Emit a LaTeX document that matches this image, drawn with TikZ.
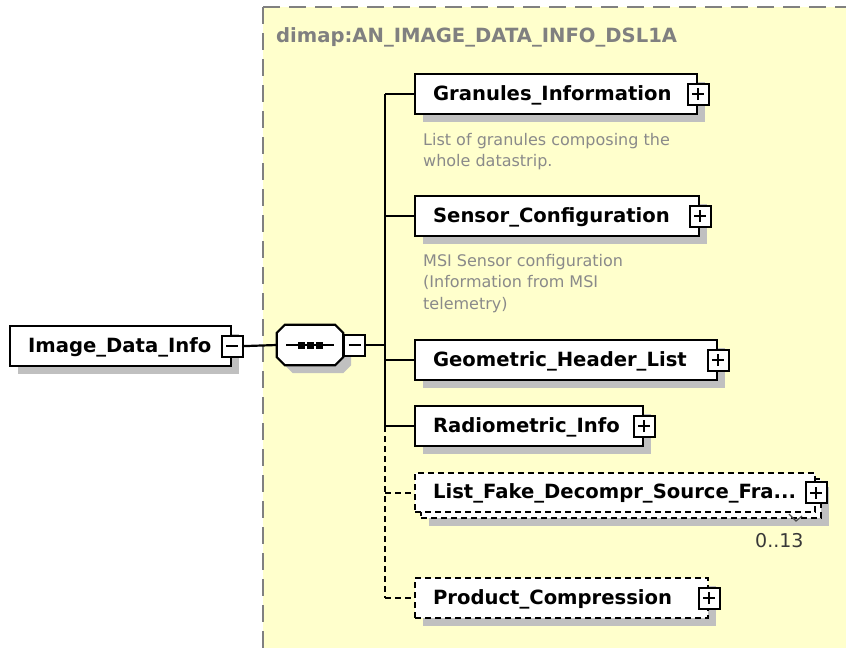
\documentclass[tikz,border=0pt]{standalone}
\usepackage{fontspec}
\setmainfont{DejaVu Sans}
\usetikzlibrary{calc,shadows}
\definecolor{bgyellow}{HTML}{FFFFCC}
\definecolor{shadowgray}{HTML}{C0C0C0}
\definecolor{bordergray}{HTML}{808080}
\definecolor{descgray}{HTML}{8A8A8A}
\definecolor{multgray}{HTML}{383838}
\newcommand{\eltext}[2]{\hbox to #1pt{\hskip18pt #2\hss}}
\begin{document}
\begin{tikzpicture}[x=1pt,y=-1pt,
  shad/.style={drop shadow={shadow xshift=8pt, shadow yshift=-8pt, fill=shadowgray, opacity=1}},
  elem/.style={draw, line width=2.2pt, fill=white, inner sep=0pt, minimum height=40pt,
    anchor=north west, font=\fontsize{19.6}{22}\selectfont\bfseries,
    text height=14pt, text depth=1.4pt},
  optdash/.style={dash pattern=on 6pt off 4pt},
  pm/.style={draw, line width=2pt, fill=white, minimum size=21pt, inner sep=0pt},
  pmline/.style={line width=2pt},
  conn/.style={line width=2.2pt},
  desc/.style={anchor=base west, inner sep=0pt, text=descgray, font=\fontsize{16}{21}\selectfont},
]
\useasboundingbox (0,0) rectangle (846,648);
% yellow complex type area
\fill[bgyellow] (263,7) rectangle (846,648);
\draw[bordergray, line width=2.2pt, dash pattern=on 17pt off 9pt] (263,7) -- (846,7);
\draw[bordergray, line width=2.2pt, dash pattern=on 17pt off 9pt] (263,7) -- (263,648);
\node[anchor=base west, inner sep=0pt, text=bordergray, font=\fontsize{19.6}{22}\selectfont\bfseries] (title) at (276,42) {dimap:AN\_IMAGE\_DATA\_INFO\_DSL1A};

% root element
\node[elem, shad] (idi) at (9,325) {\eltext{221}{Image\_Data\_Info}};
\node[pm] (idim) at (idi.east) {};
\draw[pmline] ([xshift=-6pt]idim.center) -- ([xshift=6pt]idim.center);

% sequence compositor
\node[minimum width=66pt, minimum height=40pt, inner sep=0pt] (seq) at (310,345) {};
\draw[line width=2.2pt, fill=white, shad]
  ([xshift=8pt]seq.north west) -- ([xshift=-8pt]seq.north east) -- ([yshift=-8pt]seq.north east)
  -- ([yshift=8pt]seq.south east) -- ([xshift=-8pt]seq.south east) -- ([xshift=8pt]seq.south west)
  -- ([yshift=8pt]seq.south west) -- ([yshift=-8pt]seq.north west) -- cycle;
\draw[line width=2.2pt] ([xshift=-24pt]seq.center) -- ([xshift=24pt]seq.center);
\foreach \dx in {-9,0,9} \fill ([xshift=\dx pt]seq.center) +(-3.5,-3.5) rectangle +(3.5,3.5);
\node[pm] (seqm) at (354.5,345) {};
\draw[pmline] ([xshift=-6pt]seqm.center) -- ([xshift=6pt]seqm.center);
\draw[conn] (idim.east) -- (seq.west);
\coordinate (trunk) at (385,345);
\draw[conn] (seqm.east) -- (trunk);

% child elements
\node[elem, shad] (g) at (414,73) {\eltext{282}{Granules\_Information}};
\node[elem, shad] (s) at (414,195) {\eltext{284}{Sensor\_Configuration}};
\node[elem, shad] (gh) at (414,339) {\eltext{302}{Geometric\_Header\_List}};
\node[elem, shad] (r) at (414,405) {\eltext{228}{Radiometric\_Info}};
\node[elem, shad, optdash, minimum height=39pt] (lfb) at (420,478) {\hbox to 400pt{\hss}};
\node[elem, optdash, minimum height=39pt] (lf) at (414,472) {\eltext{400}{List\_Fake\_Decompr\_Source\_Fra...}};
\node[elem, shad, optdash] (pc) at (414,577) {\eltext{293}{Product\_Compression}};

\foreach \n in {g,s,gh,r,lf,pc}{
  \node[pm] (\n p) at (\n.east) {};
  \draw[pmline] ([xshift=-6pt]\n p.center) -- ([xshift=6pt]\n p.center);
  \draw[pmline] ([yshift=-6pt]\n p.center) -- ([yshift=6pt]\n p.center);
}

% connectors
\draw[conn] (trunk |- g.west) -- (trunk |- r.west);
\draw[conn, optdash] (trunk |- r.west) -- (trunk |- pc.west);
\foreach \n in {g,s,gh,r} \draw[conn] (trunk |- \n.west) -- (\n.west);
\foreach \n in {lf,pc} \draw[conn, optdash] (trunk |- \n.west) -- (\n.west);

% documentation
\node[desc] (d1a) at (423,145) {List of granules composing the};
\node[desc] (d1b) at (423,166) {whole datastrip.};
\node[desc] (d2a) at (423,266) {MSI Sensor configuration};
\node[desc] (d2b) at (423,287.5) {(Information from MSI};
\node[desc] (d2c) at (423,309) {telemetry)};

% multiplicity
\node[anchor=base west, inner sep=0pt, text=multgray, font=\fontsize{19}{22}\selectfont] (mult) at (755,547) {0..13};
\draw[line width=1.2pt, black!70] (789,514) -- (796,521) -- (802,516);
\end{tikzpicture}
\end{document}
